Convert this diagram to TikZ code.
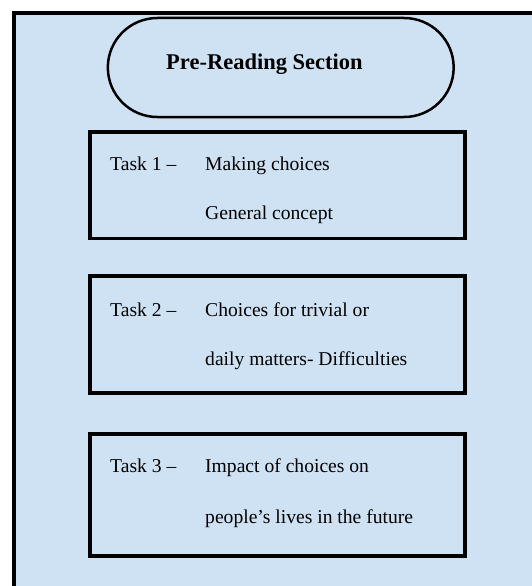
\documentclass[tikz,border=0pt]{standalone}
\usepackage{fontspec}
\setmainfont{Liberation Serif}
\usetikzlibrary{positioning}
\usetikzlibrary{shapes.misc}

\definecolor{panelblue}{RGB}{207,226,243}

\tikzset{
  taskbox/.style={draw,line width=3.5pt,minimum width=375pt},
  tasktext/.style={anchor=base west,inner sep=0pt,font=\fontsize{19.6}{23}\selectfont},
}

\begin{document}
\begin{tikzpicture}[x=1pt,y=-1pt]

  \useasboundingbox (0,0) rectangle (531,586);
  \fill [white] (0,0) rectangle (531,586);
  \draw [fill=panelblue,line width=4pt] (14,13) rectangle (545,600);

  \node [draw,rounded rectangle,line width=2.5pt,minimum width=352.5pt,minimum height=99pt] (section) at (280.75,67.5) {};
  \node [anchor=base west,inner sep=0pt,font=\fontsize{22.5}{26}\selectfont\bfseries] (title) at (166,70) {Pre-Reading Section};

  \node [taskbox,minimum height=106.5pt] (box1) at (277.5,185.25) {};
  \node [tasktext] (t1_lbl) at (110,170.5) {Task 1 --};
  \node [tasktext] (t1_a) at (205,170.5) {Making choices};
  \node [tasktext] (t1_b) at (205,219.5) {General concept};

  \node [taskbox,minimum height=117pt] (box2) at (277.5,334.5) {};
  \node [tasktext] (t2_lbl) at (110,316.5) {Task 2 --};
  \node [tasktext] (t2_a) at (205,316.5) {Choices for trivial or};
  \node [tasktext] (t2_b) at (205,365) {daily matters- Difficulties};

  \node [taskbox,minimum height=122pt] (box3) at (277.5,495) {};
  \node [tasktext] (t3_lbl) at (110,472) {Task 3 --};
  \node [tasktext] (t3_a) at (205,472) {Impact of choices on};
  \node [tasktext] (t3_b) at (205,523) {people’s lives in the future};

\end{tikzpicture}
\end{document}
